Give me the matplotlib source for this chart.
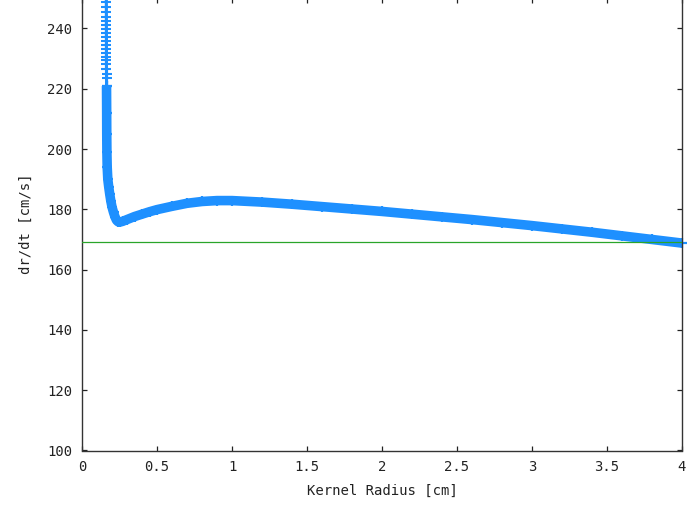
import matplotlib
matplotlib.use("Agg")
import matplotlib.pyplot as plt

# steep part (individual '+' points visible)
steep_r = [0.1624, 0.1625, 0.1625, 0.1626, 0.1626, 0.1627, 0.1627, 0.1628, 0.1628,
           0.1629, 0.1629, 0.1630, 0.1630, 0.1631, 0.1631, 0.1632, 0.1632, 0.1633,
           0.1633, 0.1634, 0.1634, 0.1635]
steep_v = [251.4, 250.0, 248.7, 247.2, 245.6, 243.9, 242.4, 241.1, 239.8, 238.6, 237.2,
           235.8, 234.4, 233.1, 231.9, 230.6, 229.4, 228.1, 226.7, 225.0, 223.6, 220.9]

# dense part of the curve
curve_r = [0.1635, 0.1645, 0.165, 0.166, 0.168, 0.172, 0.178, 0.185, 0.192, 0.200,
           0.210, 0.220, 0.230, 0.240, 0.255, 0.27, 0.30, 0.35, 0.40, 0.45, 0.50,
           0.60, 0.70, 0.80, 0.90, 1.00, 1.20, 1.40, 1.60, 1.80, 2.00, 2.20, 2.40,
           2.60, 2.80, 3.00, 3.20, 3.40, 3.60, 3.80, 4.00]
curve_v = [220.9, 212.0, 205.0, 199.0, 194.0, 190.0, 187.5, 185.0, 182.8, 180.8,
           179.0, 177.5, 176.4, 175.9, 175.8, 176.0, 176.6, 177.6, 178.4, 179.2, 179.9,
           181.0, 182.0, 182.6, 182.9, 182.9, 182.4, 181.7, 180.9, 180.1, 179.3, 178.4,
           177.5, 176.6, 175.6, 174.6, 173.5, 172.4, 171.2, 170.0, 168.8]

ref_x = [0.0, 4.0]
ref_v = [169.0, 169.0]

x_ticks = [0, 0.5, 1, 1.5, 2, 2.5, 3, 3.5, 4]
x_labels = ["0", "0.5", "1", "1.5", "2", "2.5", "3", "3.5", "4"]
y_ticks = [100, 120, 140, 160, 180, 200, 220, 240]

BLUE = "#1e90ff"
GREEN = "#2aa52a"
FONT = "DejaVu Sans Mono"

fig = plt.figure(figsize=(6.88, 5.08), dpi=100)
ax = fig.add_axes([82 / 688, (508 - 450.5) / 508, 600 / 688, 452.8 / 508])

ax.plot(ref_x, ref_v, color=GREEN, lw=0.9, zorder=3)
ax.plot(curve_r, curve_v, color=BLUE, lw=6.9, solid_capstyle="butt",
        solid_joinstyle="round", clip_on=False, zorder=2)
ax.plot(curve_r, curve_v, ls="none", marker="+", ms=6.8, mew=1.6, color=BLUE,
        clip_on=False, zorder=2)
ax.plot(steep_r, steep_v, color=BLUE, lw=2.2, clip_on=False, zorder=2)
ax.plot(steep_r, steep_v, ls="none", marker="+", ms=6.6, mew=1.5, color=BLUE,
        clip_on=False, zorder=2)

ax.set_xlim(0, 4)
ax.set_ylim(100, 250.2)
ax.set_xticks(x_ticks)
ax.set_xticklabels(x_labels)
ax.set_yticks(y_ticks)

for s in ax.spines.values():
    s.set_color("#333333")
    s.set_linewidth(1.0)

ax.tick_params(direction="in", length=3.8, width=0.9, color="#222222",
               top=True, right=True, labelsize=10, pad=7, labelcolor="#222222")
for lab in ax.get_xticklabels() + ax.get_yticklabels():
    lab.set_fontfamily(FONT)

ax.set_xlabel("Kernel Radius [cm]", fontsize=10, family=FONT, color="#222222", labelpad=7)
ax.set_ylabel("dr/dt [cm/s]", fontsize=10, family=FONT, color="#222222", labelpad=10)

fig.savefig("out.png", dpi=100)
